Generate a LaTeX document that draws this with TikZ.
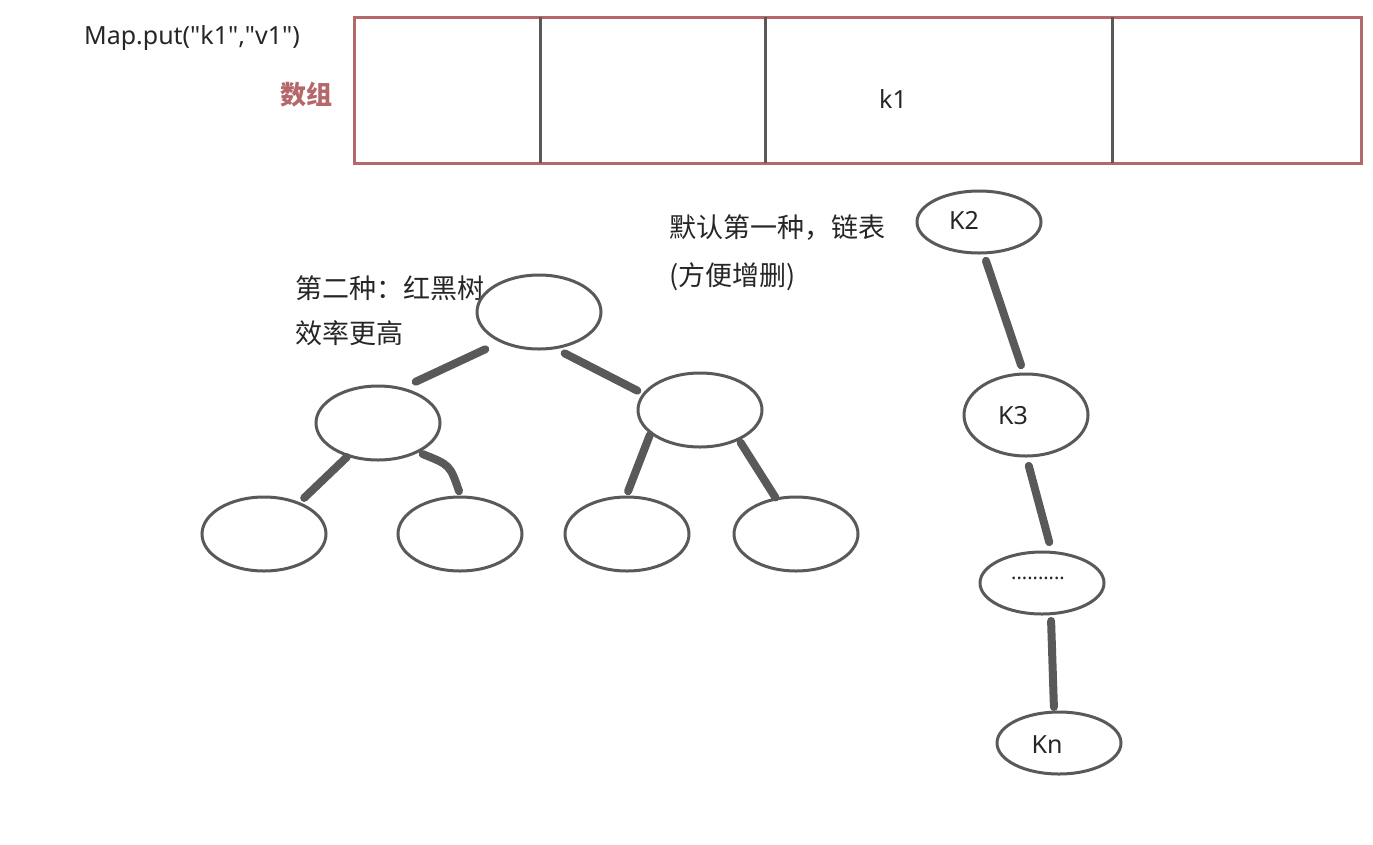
\documentclass[tikz,border=0pt]{standalone}
\usepackage{fontspec}
\usetikzlibrary{shapes.geometric}
\setmainfont{Noto Sans CJK SC}
\newfontfamily\lat{Noto Sans}
\definecolor{arr}{HTML}{B5686A}
\definecolor{gr}{HTML}{595959}
\begin{document}
\begin{tikzpicture}[x=1pt,y=-1pt,
  ell/.style={draw=gr,line width=3pt,ellipse,minimum width=124pt,minimum height=74pt,inner sep=0pt},
  sml/.style={draw=gr,line width=3pt,ellipse,minimum width=124pt,minimum height=62pt,inner sep=0pt},
  link/.style={draw=gr,line width=8pt,line cap=round,shorten <=3pt,shorten >=3pt},
  txt/.style={font=\lat\fontsize{25}{30}\selectfont,text=black!85,inner sep=0pt},
  cn/.style={font=\fontsize{27}{32}\selectfont,text=black!85,inner sep=0pt,anchor=west}]
\useasboundingbox (0,0) rectangle (1373,844);
\draw[arr,line width=3pt] (354,17) rectangle (1361,163);
\foreach \x in {540,765,1112} \draw[gr,line width=3pt] (\x,17) -- (\x,163);
\node[txt] (mp) at (192,38) {Map.put("k1","v1")};
\node[cn,text=arr,font=\bfseries\fontsize{26}{30}\selectfont,anchor=center] (sz) at (306,95) {数组};
\node[txt] (k1) at (893,99) {k1};
\node[cn] (t1) at (295,288) {第二种：红黑树};
\node[cn] (t2) at (295,333) {效率更高};
\node[cn] (t3) at (669,228) {默认第一种，链表};
\node[cn] (t4) at (669,277) {(方便增删)};
\node[ell] (r) at (539,312) {};
\node[ell] (a) at (378,423) {};
\node[ell] (b) at (700,410) {};
\node[ell] (l1) at (264,534) {};
\node[ell] (l2) at (460,534) {};
\node[ell] (l3) at (627,534) {};
\node[ell] (l4) at (796,534) {};
\node[sml] (k2) at (979,222) {};
\node[ell,minimum height=82pt] (k3) at (1026,415) {};
\node[sml] (kd) at (1042,583) {};
\node[sml] (kn) at (1059,743) {};
\node[txt] at (964,220) {K2};
\node[txt] at (1013,416) {K3};
\node[txt,font=\lat\fontsize{20}{24}\selectfont] at (1038,578) {..........};
\node[txt] at (1047,745) {Kn};
\coordinate (c1) at (488,348); \coordinate (c2) at (413,383);
\coordinate (c3) at (562,352); \coordinate (c4) at (640,392);
\coordinate (c5) at (349,455); \coordinate (c6) at (302,500);
\coordinate (c7) at (420,453); \coordinate (c8) at (460,494);
\coordinate (c9) at (651,432); \coordinate (c10) at (627,494);
\coordinate (c11) at (739,440); \coordinate (c12) at (777,500);
\coordinate (c13) at (985,258); \coordinate (c14) at (1022,368);
\coordinate (c15) at (1028,463); \coordinate (c16) at (1050,545);
\coordinate (c17) at (1051,618); \coordinate (c18) at (1054,710);
\draw[link] (c1) -- (c2);
\draw[link] (c3) -- (c4);
\draw[link] (c5) -- (c6);
\draw[link] (c7) .. controls (450,465) .. (c8);
\draw[link] (c9) -- (c10);
\draw[link] (c11) -- (c12);
\draw[link] (c13) -- (c14);
\draw[link] (c15) -- (c16);
\draw[link] (c17) -- (c18);
\end{tikzpicture}
\end{document}
